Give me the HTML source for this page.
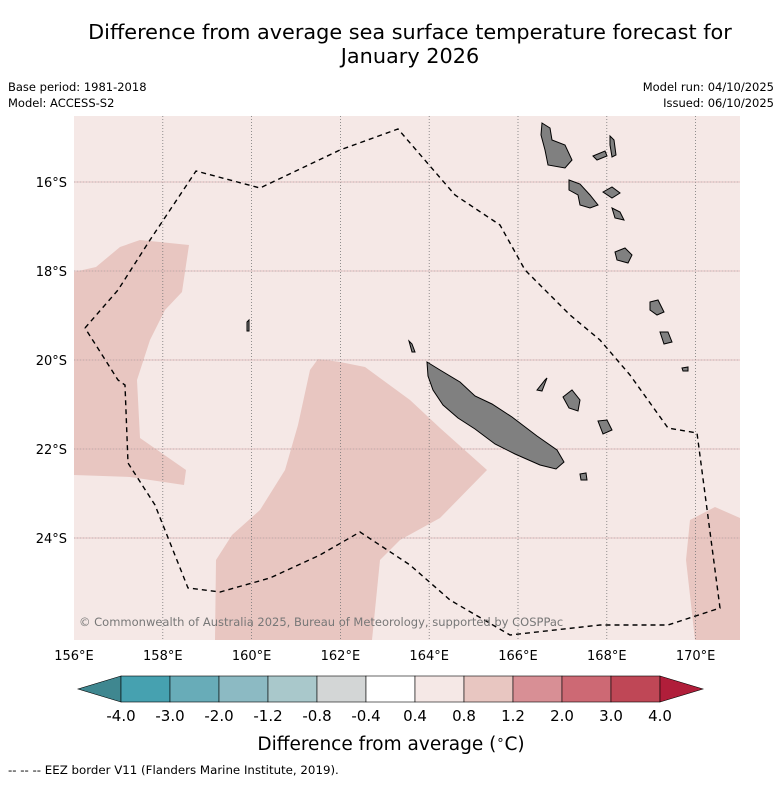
<!DOCTYPE html>
<html><head><meta charset="utf-8"><style>
body{margin:0;background:#fff;font-family:"Liberation Sans","DejaVu Sans",sans-serif}
</style></head><body>
<svg width="781" height="781" viewBox="0 0 781 781" xmlns="http://www.w3.org/2000/svg" font-family="DejaVu Sans, Liberation Sans, sans-serif">
<text x="410" y="39" font-size="20.8" text-anchor="middle">Difference from average sea surface temperature forecast for</text>
<text x="410" y="63" font-size="20.8" text-anchor="middle">January 2026</text>
<text x="8" y="91" font-size="11.5">Base period: 1981-2018</text>
<text x="8" y="107" font-size="11.5">Model: ACCESS-S2</text>
<text x="774" y="91" font-size="11.5" text-anchor="end">Model run: 04/10/2025</text>
<text x="774" y="107" font-size="11.5" text-anchor="end">Issued: 06/10/2025</text>
<g id="map">
<rect x="74" y="116" width="666" height="524" fill="#f5e8e6"/>
<polygon fill="#e8c6c1" points="74,272 96,267 120,247 140,240 189,245 182,292 165,310 150,340 137,380 140,438 186,470 184,485 130,477 74,475"/>
<polygon fill="#e8c6c1" points="318,359 340,362 365,367 410,400 440,428 487,470 440,518 400,540 380,560 372,640 215,640 216,560 232,535 260,510 285,470 298,425 310,370"/>
<polygon fill="#e8c6c1" points="690,520 715,507 740,518 740,640 695,640 686,560"/>
<g id="grid"></g>
<g fill="#808080" stroke="#000" stroke-width="1">
<polygon points="427,362 440,370 460,382 475,396 492,404 512,417 537,436 557,450 564,462 556,469 540,465 515,454 495,444 475,429 458,418 443,405 433,390 428,376"/>
<polygon points="542,123 550,128 552,140 565,145 572,160 565,168 548,165 545,150 541,135"/>
<polygon points="569,180 580,184 590,195 598,205 590,208 580,205 578,195 569,190"/>
<polygon points="593,156 605,151 607,156 597,160"/>
<polygon points="610,136 614,140 616,155 612,157 610,145"/>
<polygon points="603,192 612,187 620,193 612,198"/>
<polygon points="612,208 620,212 624,220 615,218"/>
<polygon points="615,252 625,248 632,255 628,263 617,260"/>
<polygon points="650,302 658,300 664,312 657,315 650,310"/>
<polygon points="660,332 668,332 672,342 664,344"/>
<polygon points="563,397 572,390 580,400 578,411 569,408"/>
<polygon points="598,421 607,420 612,430 603,434"/>
<polygon points="537,390 545,380 547,378 542,391"/>
<polygon points="580,474 586,473 587,480 581,480"/>
<polygon points="682,368 688,367 688,371 683,371"/>
<polygon points="247,322 249,320 249,331 247,331"/>
<polygon points="409,341 412,344 415,352 412,352"/>
</g>
<polyline fill="none" stroke="#000" stroke-width="1.4" stroke-dasharray="5,4" points="85,328 118,290 150,240 196,171 260,188 340,150 398,129 455,195 500,225 525,270 570,315 600,340 630,375 668,428 697,433 720,608 668,625 600,625 510,635 450,600 410,565 360,532 320,555 270,578 220,592 188,588 155,505 128,463 125,385 118,380 85,328"/>
<text x="79" y="626" font-size="11.5" fill="#777">© Commonwealth of Australia 2025, Bureau of Meteorology, supported by COSPPac</text>
</g>
<g id="axes"></g>
<g id="cbar"></g>
<text x="391" y="750" font-size="18.5" text-anchor="middle">Difference from average (<tspan font-size="13" dy="-6">∘</tspan><tspan dy="6">C)</tspan></text>
<text x="8" y="774" font-size="11.8">--  --  -- EEZ border V11 (Flanders Marine Institute, 2019).</text>
</svg>
<script>
const lonTicks=[156,158,160,162,164,166,168,170];
const latTicks=[16,18,20,22,24];
const cbarLabels=["-4.0","-3.0","-2.0","-1.2","-0.8","-0.4","0.4","0.8","1.2","2.0","3.0","4.0"];
const cbarColors=["#46a1b0","#68acb8","#8cbac3","#a9c8cb","#d3d6d6","#ffffff","#f5e8e6","#e8c6c1","#d88f95","#cd6974","#bf4756"];
const NS="http://www.w3.org/2000/svg";
const xLon=l=>74+(l-156)*44.4;
const yLat=l=>182+(l-16)*44.5;
function mk(t,a,p){const e=document.createElementNS(NS,t);for(const k in a)e.setAttribute(k,a[k]);p.appendChild(e);return e;}
const grid=document.getElementById('grid'),axes=document.getElementById('axes'),cb=document.getElementById('cbar');
lonTicks.forEach(l=>{const x=xLon(l);
 if(l>156){const g=mk('line',{x1:x,x2:x,y1:116,y2:640,stroke:'#777','stroke-width':0.8,'stroke-dasharray':'1,2'},grid);
 
 }
 const t=mk('text',{x:x,y:660,'font-size':13,'text-anchor':'middle'},axes);t.textContent=l+'°E';
 
 });
latTicks.forEach(l=>{const y=yLat(l);
 const g=mk('line',{x1:74,x2:740,y1:y,y2:y,stroke:'#ddb3b3','stroke-width':0.8},grid);
 
 
 const g2=mk('line',{x1:74,x2:740,y1:y,y2:y,stroke:'#999','stroke-width':0.6,'stroke-dasharray':'1,2'},grid);
 
 
 const t=mk('text',{x:67,y:y+5,'font-size':13,'text-anchor':'end'},axes);t.textContent=l+'°S';
 
 });
const x0=121,w=49,y0=676,h=26;
const la=mk('polygon',{points:`${x0},${y0} ${x0},${y0+h} 78,${y0+h/2}`,fill:'#3f8790',stroke:'#000','stroke-width':0.6},cb);


cbarColors.forEach((c,i)=>{const r=mk('rect',{x:x0+i*w,y:y0,width:w,height:h,fill:c,stroke:'#000','stroke-width':0.6},cb);
 
 });
const xe=x0+cbarColors.length*w;
const ra=mk('polygon',{points:`${xe},${y0} ${xe},${y0+h} ${xe+43},${y0+h/2}`,fill:'#b01e3a',stroke:'#000','stroke-width':0.6},cb);


cbarLabels.forEach((s,i)=>{const t=mk('text',{x:x0+i*w,y:721,'font-size':15,'text-anchor':'middle'},cb);t.textContent=s;
 
 });
</script>
</body></html>
